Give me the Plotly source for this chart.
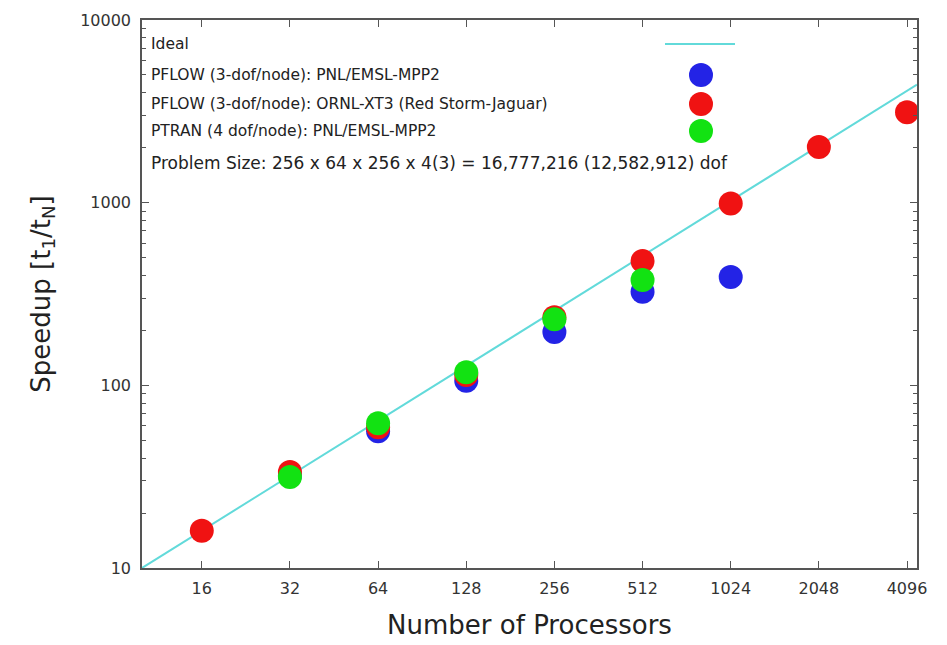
import numpy as np
import plotly.graph_objects as go

# ---- data ----
x_ticks = [16, 32, 64, 128, 256, 512, 1024, 2048, 4096]
y_ticks = [10, 100, 1000, 10000]
ideal_procs = [10, 4430]

blue_procs = [32, 64, 128, 256, 512, 1024]
blue_speedup = [32, 56, 106, 196, 325, 392]

red_procs = [16, 32, 64, 128, 256, 512, 1024, 2048, 4096]
red_speedup = [16, 33.5, 59, 114, 236, 480, 990, 2020, 3130]

green_procs = [32, 64, 128, 256, 512]
green_speedup = [31.5, 62, 118, 230, 377]

legend_labels = [
    "Ideal",
    "PFLOW (3-dof/node): PNL/EMSL-MPP2",
    "PFLOW (3-dof/node): ORNL-XT3 (Red Storm-Jaguar)",
    "PTRAN (4 dof/node): PNL/EMSL-MPP2",
    "Problem Size: 256 x 64 x 256 x 4(3) = 16,777,216 (12,582,912) dof",
]

BLUE = "#2323e6"
RED = "#f01212"
GREEN = "#12e212"
CYAN = "#62dada"
MSIZE = 24
FONT = "DejaVu Sans, Liberation Sans, Arial, sans-serif"

fig = go.Figure()
fig.add_trace(go.Scatter(x=ideal_procs, y=ideal_procs, mode="lines",
                         line=dict(color=CYAN, width=2), name=legend_labels[0]))
fig.add_trace(go.Scatter(x=blue_procs, y=blue_speedup, mode="markers",
                         marker=dict(color=BLUE, size=MSIZE), name=legend_labels[1]))
fig.add_trace(go.Scatter(x=red_procs, y=red_speedup, mode="markers",
                         marker=dict(color=RED, size=MSIZE), name=legend_labels[2]))
fig.add_trace(go.Scatter(x=green_procs, y=green_speedup, mode="markers",
                         marker=dict(color=GREEN, size=MSIZE), name=legend_labels[3]))

# ---- gnuplot-style legend (text left, sample right) ----
L, R, T, B = 142, 917, 20, 568
W, H = R - L, B - T
def px(x): return (x - L) / W
def py(y): return (B - y) / H

rows_y = [44, 75, 104, 131, 163]
annotations = []
for i, (lab, yy) in enumerate(zip(legend_labels, rows_y)):
    annotations.append(dict(x=px(149), y=py(yy), xref="paper", yref="paper",
                            text=lab, showarrow=False, xanchor="left", yanchor="middle",
                            font=dict(size=15.5 if i < 4 else 17, color="#222", family=FONT)))
shapes = [dict(type="line", xref="paper", yref="paper", x0=px(665), x1=px(735),
               y0=py(44), y1=py(44), line=dict(color=CYAN, width=2))]
for col, yy in zip([BLUE, RED, GREEN], rows_y[1:4]):
    shapes.append(dict(type="circle", xref="paper", yref="paper",
                       xsizemode="pixel", ysizemode="pixel",
                       xanchor=px(701), yanchor=py(yy),
                       x0=-12, x1=12, y0=-12, y1=12,
                       fillcolor=col, line=dict(width=0)))

axis_common = dict(type="log", showline=True, linecolor="#555", linewidth=1.5,
                   mirror="allticks", ticks="inside", tickcolor="#555", ticklen=7,
                   showgrid=False, zeroline=False, automargin=False,
                   tickfont=dict(size=16, color="#333", family=FONT),
                   title_font=dict(size=26, color="#222", family=FONT))

fig.update_layout(
    width=947, height=645,
    margin=dict(l=L, r=947 - R, t=T, b=645 - B),
    plot_bgcolor="white", paper_bgcolor="white",
    showlegend=False,
    annotations=annotations,
    shapes=shapes,
    xaxis=dict(range=[1, np.log10(4430)], tickvals=x_ticks,
               ticktext=[str(v) for v in x_ticks],
               title=dict(text="Number of Processors", standoff=19),
               ticklabelstandoff=5, **axis_common),
    yaxis=dict(range=[1, 4], tickvals=y_ticks,
               ticktext=[str(v) for v in y_ticks],
               minor=dict(ticks="inside", ticklen=4, tickcolor="#555",
                          tickvals=[m * 10 ** k for k in range(1, 4) for m in range(2, 10)]),
               title=dict(text="Speedup [t<sub>1</sub>/t<sub>N</sub>]", standoff=22),
               ticklabelstandoff=6, **axis_common),
)

fig.write_html("out.html")
